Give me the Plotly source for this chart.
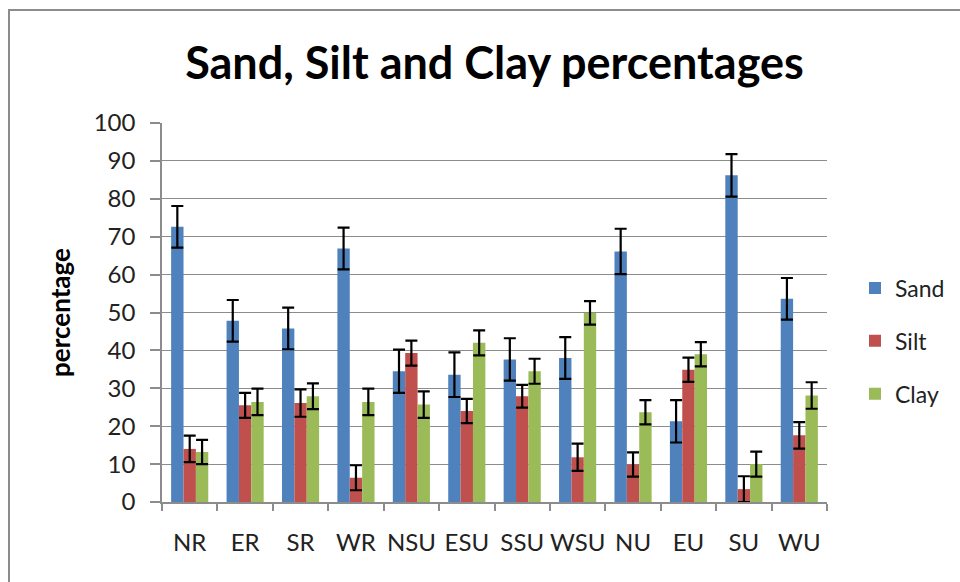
import plotly.graph_objects as go

# values
sites = ['NR', 'ER', 'SR', 'WR', 'NSU', 'ESU', 'SSU', 'WSU', 'NU', 'EU', 'SU', 'WU']
sand = [72.6, 47.8, 45.8, 66.9, 34.5, 33.6, 37.6, 38.0, 66.1, 21.3, 86.2, 53.6]
silt = [14.0, 25.5, 26.1, 6.4, 39.3, 24.0, 27.9, 11.8, 9.9, 34.9, 3.4, 17.6]
clay = [13.2, 26.4, 27.9, 26.4, 25.7, 42.0, 34.5, 49.9, 23.7, 39.0, 10.0, 28.1]
sand_err = [5.5, 5.5, 5.5, 5.5, 5.7, 5.9, 5.6, 5.5, 6.0, 5.6, 5.6, 5.5]
silt_err = [3.5, 3.3, 3.6, 3.3, 3.3, 3.2, 3.0, 3.6, 3.2, 3.2, 3.4, 3.5]
clay_err = [3.2, 3.5, 3.4, 3.5, 3.5, 3.3, 3.3, 3.1, 3.2, 3.2, 3.3, 3.5]

font = 'Lato'
W, H = 960, 582
L, R, T, B = 162, 133, 123, 80

fig = go.Figure()
for name, vals, errs, col in [('Sand', sand, sand_err, '#4F81BD'),
                              ('Silt', silt, silt_err, '#C0504D'),
                              ('Clay', clay, clay_err, '#9BBB59')]:
    fig.add_trace(go.Bar(
        x=sites, y=vals, name=name, legendgroup=name,
        marker=dict(color=col, line=dict(width=0)),
        error_y=dict(type='data', array=errs, visible=True,
                     color='black', thickness=2.2, width=6),
    ))

# outer chart frame (px -> paper coordinates)
pw, ph = W - L - R, H - T - B
def px2x(p): return (p - L) / pw
def py2y(p): return (H - B - p) / ph
fig.add_shape(type='rect', xref='paper', yref='paper',
              x0=px2x(9), x1=px2x(975), y0=py2y(600), y1=py2y(10),
              line=dict(color='#8c8c8c', width=2), fillcolor='rgba(0,0,0,0)', layer='below')

fig.update_layout(
    width=W, height=H,
    margin=dict(l=L, r=R, t=T, b=B, autoexpand=False),
    paper_bgcolor='white', plot_bgcolor='white',
    font=dict(family=font, size=24, color='#222'),
    title=dict(text='<b>Sand, Silt and Clay percentages</b>', x=0.5, xref='paper',
               y=1 - 63 / H, yanchor='middle', font=dict(family=font, size=45, color='black')),
    barmode='group', bargap=0.33, bargroupgap=0,
    legend=dict(x=px2x(855), xanchor='left', y=py2y(341), yanchor='middle',
                tracegroupgap=20, font=dict(size=23, color='#222'),
                bgcolor='rgba(0,0,0,0)'),
    showlegend=True,
)
fig.update_xaxes(showline=True, linecolor='#8c8c8c', linewidth=1.5, tickangle=0, automargin=False,
                 ticks='outside', tickson='boundaries', ticklen=7, tickcolor='#8c8c8c',
                 tickwidth=1.5, ticklabelstandoff=18, showgrid=False)
fig.update_yaxes(range=[0, 100], dtick=10, showline=True, linecolor='#8c8c8c', linewidth=1.5,
                 ticks='outside', ticklen=10, tickcolor='#8c8c8c', tickwidth=1.5, automargin=False,
                 gridcolor='#8c8c8c', gridwidth=1.2, ticklabelstandoff=10,
                 title=dict(text='<b>percentage</b>', standoff=16, font=dict(size=26, color='black')),
                 zeroline=False)

# drop the default page margin so the figure sits at the window origin
fig.write_html('out.html', config={'displayModeBar': False},
               post_script="document.body.style.margin='0';")
